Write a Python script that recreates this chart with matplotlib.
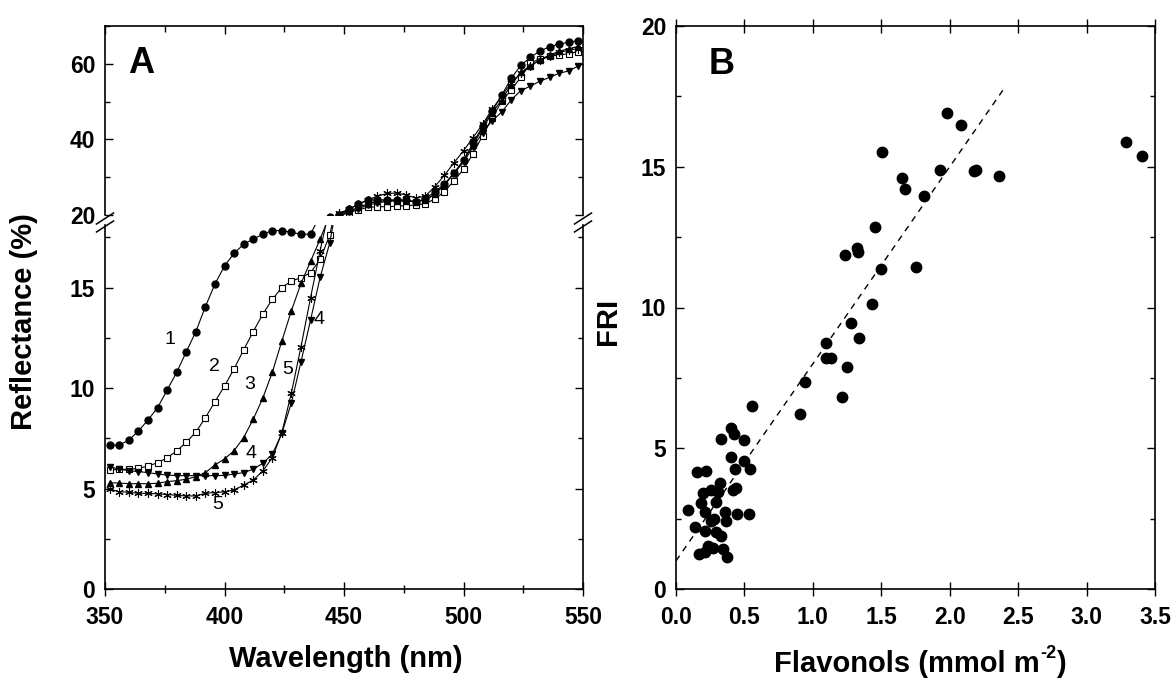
import matplotlib
matplotlib.use("Agg")
import matplotlib.pyplot as plt
from matplotlib.lines import Line2D
from matplotlib.ticker import MultipleLocator, FormatStrFormatter

plt.rcParams['font.family'] = ['Liberation Sans', 'DejaVu Sans']

# ---- panel A: reflectance spectra (4 nm steps)
wavelength = [352, 356, 360, 364, 368, 372, 376, 380, 384, 388,
              392, 396, 400, 404, 408, 412, 416, 420, 424, 428,
              432, 436, 440, 444, 448, 452, 456, 460, 464, 468,
              472, 476, 480, 484, 488, 492, 496, 500, 504, 508,
              512, 516, 520, 524, 528, 532, 536, 540, 544, 548]

refl_1 = [7.16, 7.16, 7.41, 7.86, 8.41, 9.02, 9.90, 10.78, 11.80, 12.80,
          14.05, 15.17, 16.07, 16.70, 17.15, 17.41, 17.65, 17.83, 17.83, 17.75,
          17.65, 17.65, 18.6, 19.4, 20.0, 21.5, 22.9, 24.0, 24.0, 24.0,
          24.0, 24.0, 23.5, 24.2, 26.2, 28.2, 31.0, 34.5, 39.0, 43.5,
          47.5, 51.7, 56.2, 59.6, 61.7, 63.4, 64.5, 65.2, 65.7, 66.1]
refl_2 = [5.92, 5.95, 5.96, 6.00, 6.12, 6.28, 6.53, 6.87, 7.30, 7.80,
          8.52, 9.32, 10.10, 10.95, 11.90, 12.80, 13.67, 14.41, 15.00, 15.32,
          15.49, 15.74, 16.4, 17.6, 19.8, 20.6, 21.4, 22.0, 22.2, 22.2,
          22.3, 22.5, 22.6, 23.0, 24.2, 26.2, 29.0, 32.1, 36.2, 41.0,
          45.7, 50.1, 53.1, 56.5, 60.1, 61.4, 62.0, 62.3, 62.7, 63.2]
refl_3 = [5.29, 5.27, 5.24, 5.24, 5.24, 5.26, 5.34, 5.39, 5.46, 5.59,
          5.79, 6.17, 6.47, 6.88, 7.53, 8.44, 9.49, 10.78, 12.34, 13.85,
          15.2, 16.3, 17.4, 18.6, 20.3, 21.0, 22.0, 23.0, 23.6, 23.8,
          23.8, 23.7, 23.5, 24.0, 25.5, 28.0, 31.0, 34.5, 38.5, 43.0,
          47.0, 50.5, 54.5, 57.7, 59.5, 61.0, 62.3, 63.3, 64.0, 64.6]
refl_4 = [6.08, 5.96, 5.89, 5.84, 5.79, 5.72, 5.67, 5.64, 5.64, 5.64,
          5.64, 5.64, 5.65, 5.72, 5.79, 5.96, 6.25, 6.70, 7.75, 9.27,
          11.30, 13.38, 15.5, 17.2, 19.8, 20.8, 21.7, 22.6, 23.2, 23.6,
          23.8, 23.8, 23.5, 24.0, 25.5, 28.0, 31.0, 34.0, 38.0, 41.8,
          45.0, 47.2, 50.5, 52.9, 54.1, 55.4, 56.4, 57.5, 58.1, 59.4]
refl_5 = [4.96, 4.84, 4.81, 4.76, 4.76, 4.73, 4.70, 4.66, 4.63, 4.63,
          4.76, 4.80, 4.83, 4.93, 5.17, 5.42, 5.87, 6.53, 7.78, 9.77,
          12.05, 14.49, 16.83, 19.0, 20.5, 21.5, 22.8, 24.0, 25.0, 25.7,
          25.8, 25.3, 24.5, 25.0, 27.5, 30.5, 33.8, 37.0, 40.5, 44.0,
          48.0, 51.5, 55.0, 57.5, 59.5, 61.0, 62.0, 63.0, 63.6, 64.0]

curve_labels = ["1", "2", "3", "4", "5", "4", "5"]
label_x = [377.1, 395.6, 410.5, 411.0, 397.0, 439.6, 426.5]
label_y = [12.4, 11.06, 10.15, 6.75, 4.18, 13.4, 10.9]

# ---- panel B: FRI vs flavonols
flavonols = [1.977, 2.080, 1.504, 3.291, 3.408, 1.927, 2.176, 2.190, 2.362, 1.648,
             1.670, 1.811, 1.457, 1.236, 1.319, 1.327, 1.498, 1.753, 1.432, 1.280,
             1.338, 1.094, 1.094, 1.131, 1.247, 0.942, 1.213, 0.909, 0.557, 0.405,
             0.427, 0.328, 0.494, 0.400, 0.494, 0.433, 0.544, 0.156, 0.220, 0.323,
             0.441, 0.419, 0.253, 0.198, 0.309, 0.184, 0.289, 0.090, 0.212, 0.356,
             0.447, 0.530, 0.281, 0.364, 0.253, 0.137, 0.212, 0.289, 0.328, 0.234,
             0.270, 0.345, 0.170, 0.212, 0.370]
fri = [16.9, 16.5, 15.52, 15.89, 15.39, 14.88, 14.86, 14.9, 14.67, 14.61,
       14.2, 13.96, 12.87, 11.85, 12.1, 11.96, 11.37, 11.45, 10.12, 9.46,
       8.91, 8.75, 8.19, 8.21, 7.90, 7.37, 6.82, 6.22, 6.50, 5.73,
       5.49, 5.33, 5.29, 4.70, 4.55, 4.26, 4.28, 4.14, 4.19, 3.78,
       3.60, 3.52, 3.50, 3.40, 3.45, 3.04, 3.10, 2.81, 2.72, 2.75,
       2.65, 2.65, 2.49, 2.42, 2.40, 2.21, 2.06, 2.01, 1.89, 1.53,
       1.44, 1.41, 1.24, 1.33, 1.12]
fit_intercept = 1.0
fit_slope = 7.0
fit_x = [0.0, 2.41]

W, H = 1174, 678
bold = dict(fontweight='bold')
TICK_FS = 16.5
LABEL_FS = 21


def box(left, top, right, bottom):
    return [left / W, 1 - bottom / H, (right - left) / W, (bottom - top) / H]


def bold_ticks(ax):
    for lab in ax.get_xticklabels() + ax.get_yticklabels():
        lab.set_fontsize(TICK_FS)
        lab.set_fontweight('bold')


fig = plt.figure(figsize=(W / 100, H / 100), dpi=100)

ax_lo = fig.add_axes(box(105, 225.2, 583, 589))
ax_hi = fig.add_axes(box(105, 26, 583, 215))

series = [
    (refl_1, dict(marker='o', mfc='black', mec='black', ms=5)),
    (refl_2, dict(marker='s', mfc='white', mec='black', ms=4.5, mew=0.8)),
    (refl_3, dict(marker='^', mfc='black', mec='black', ms=5)),
    (refl_4, dict(marker='v', mfc='black', mec='black', ms=5)),
    (refl_5, dict(marker=(6, 2, 0), mfc='black', mec='black', ms=6, mew=0.8)),
]
for ax in (ax_lo, ax_hi):
    for vals, style in series:
        ax.plot(wavelength, vals, color='black', lw=0.8, **style)
    ax.set_xlim(350, 550)
    ax.xaxis.set_major_locator(MultipleLocator(50))
    ax.xaxis.set_minor_locator(MultipleLocator(25))
    for s in ax.spines.values():
        s.set_linewidth(1.2)

ax_lo.set_ylim(0, 18.1)
ax_lo.yaxis.set_major_locator(MultipleLocator(5))
ax_lo.yaxis.set_minor_locator(MultipleLocator(2.5))
ax_lo.spines['top'].set_visible(False)
ax_lo.tick_params(axis='y', which='both', direction='in', left=True, right=True, width=1.0)
ax_lo.tick_params(axis='y', which='major', length=6, pad=7)
ax_lo.tick_params(axis='y', which='minor', length=3.5)
ax_lo.tick_params(axis='x', which='both', direction='inout', top=False, bottom=True, width=1.0, pad=7)
ax_lo.tick_params(axis='x', which='major', length=10)
ax_lo.tick_params(axis='x', which='minor', length=6)

ax_hi.set_ylim(20, 70)
ax_hi.set_yticks([20, 40, 60])
ax_hi.yaxis.set_minor_locator(MultipleLocator(10))
ax_hi.spines['bottom'].set_visible(False)
ax_hi.tick_params(axis='y', which='both', direction='in', left=True, right=True, width=1.0, pad=7)
ax_hi.tick_params(axis='y', which='major', length=6)
ax_hi.tick_params(axis='y', which='minor', length=3.5)
ax_hi.tick_params(axis='x', which='both', direction='in', top=True, bottom=False,
                  labelbottom=False, width=1.0)
ax_hi.tick_params(axis='x', which='major', length=6)
ax_hi.tick_params(axis='x', which='minor', length=4)

bold_ticks(ax_lo)
bold_ticks(ax_hi)

for t, x, y in zip(curve_labels, label_x, label_y):
    ax_lo.text(x, y, t, fontsize=14, ha='center', va='center')

ax_hi.text(0.048, 0.80, "A", transform=ax_hi.transAxes, fontsize=26, ha='left', va='center', **bold)

# axis-break marks
for xb in (105, 583):
    for yb in (218.5, 226.5):
        fig.add_artist(Line2D([(xb - 8.5) / W, (xb + 8.5) / W],
                              [1 - (yb + 5.5) / H, 1 - (yb - 5.5) / H],
                              color='black', lw=1.1))

fig.text(24 / W, 1 - 322 / H, "Reflectance (%)", rotation=90, ha='center', va='center',
         fontsize=LABEL_FS, **bold)
fig.text(346 / W, 1 - 667 / H, "Wavelength (nm)", ha='center', va='baseline',
         fontsize=LABEL_FS, **bold)

# ---- panel B
axB = fig.add_axes(box(676, 26, 1155, 589))
axB.plot(flavonols, fri, 'o', color='black', ms=7.5)
axB.plot(fit_x, [fit_intercept + fit_slope * x for x in fit_x], color='black', lw=1.0,
         dashes=(4.5, 4))
axB.set_xlim(0, 3.5)
axB.set_ylim(0, 20)
axB.xaxis.set_major_locator(MultipleLocator(0.5))
axB.xaxis.set_major_formatter(FormatStrFormatter('%.1f'))
axB.yaxis.set_major_locator(MultipleLocator(5))
axB.yaxis.set_minor_locator(MultipleLocator(2.5))
for s in axB.spines.values():
    s.set_linewidth(1.2)
axB.tick_params(axis='y', which='both', direction='in', left=True, right=True, width=1.0, pad=7)
axB.tick_params(axis='y', which='major', length=6)
axB.tick_params(axis='y', which='minor', length=3.5)
axB.tick_params(axis='x', which='major', direction='inout', length=10, bottom=True, width=1.0, pad=7)
axB.tick_params(axis='x', which='major', top=True)
bold_ticks(axB)
axB.text(0.069, 0.931, "B", transform=axB.transAxes, fontsize=26, ha='left', va='center', **bold)

fig.text(608 / W, 1 - 321 / H, "FRI", rotation=90, ha='center', va='center',
         fontsize=LABEL_FS, **bold)

# x label of B with a plain "-2" superscript, laid out piece by piece
renderer = fig.canvas.get_renderer()
pieces = [("Flavonols (mmol m", LABEL_FS, 0), ("-2", 13, 14), (")", LABEL_FS, 0)]
texts = [fig.text(0, 0, s, fontsize=fs, va='baseline', ha='left', **bold) for s, fs, _ in pieces]
widths = [t.get_window_extent(renderer).width for t in texts]
x = 920 - sum(widths) / 2
for t, w, (_, _, rise) in zip(texts, widths, pieces):
    t.set_position((x / W, 1 - (672 - rise) / H))
    x += w

fig.savefig("out.png", dpi=100)
